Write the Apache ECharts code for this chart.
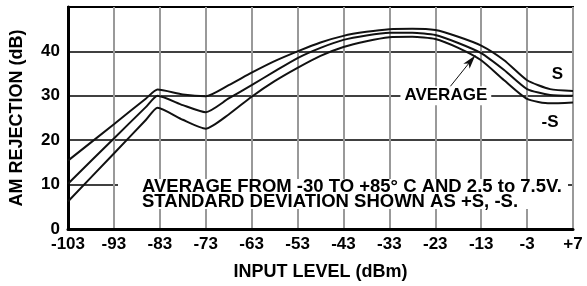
<!DOCTYPE html>
<html>
<head>
<meta charset="utf-8">
<script src="https://cdn.jsdelivr.net/npm/echarts@6/dist/echarts.min.js"></script>
<style>
  html, body { margin: 0; padding: 0; background: #fff; }
  #chart { width: 587px; height: 286px; }
</style>
</head>
<body>
<div id="chart"></div>
<script>
// axis starts at -103 dBm, so x values are shifted by X0 for the value axis
var X0 = -103;
var xTickLabels = ["-103", "-93", "-83", "-73", "-63", "-53", "-43", "-33", "-23", "-13", "-3", "+7"];
var yTickLabels = ["0", "10", "20", "30", "40", ""];

var inputLevel = [-103, -93, -86, -83.5, -78, -73, -68, -63, -58, -53, -48, -43, -38, -33, -28, -23, -18, -13, -8, -3, 2, 7];
var plusS   = [15.4, 23.6, 29.4, 31.4, 30.3, 29.9, 32.4, 35.2, 37.8, 40.0, 42.0, 43.5, 44.4, 45.0, 45.1, 44.8, 43.3, 41.3, 38.0, 33.5, 31.5, 31.1];
var average = [10.2, 20.4, 27.5, 30.0, 27.9, 26.3, 29.4, 32.4, 35.5, 38.5, 40.8, 42.6, 43.6, 44.2, 44.2, 43.7, 41.9, 39.6, 35.8, 31.5, 30.2, 30.0];
var minusS  = [6.2, 17.0, 24.6, 27.3, 24.6, 22.6, 25.8, 29.8, 33.3, 36.3, 39.0, 41.0, 42.3, 43.2, 43.3, 42.8, 40.8, 38.0, 33.5, 29.3, 28.3, 28.5];

// annotation anchors, in dBm / dB
var arrowFrom = [-20.2, 31.5];
var arrowTo = [-14.3, 39.1];
var averageLabelAt = [-20.7, 30];
var sLabelAt = [3.6, 34.8];
var minusSLabelAt = [2.0, 24.1];

var FONT = "Liberation Sans, Arial, sans-serif";

function pts(ys) {
  return inputLevel.map(function (x, i) { return [x - X0, ys[i]]; });
}

function curve(name, ys) {
  return {
    name: name,
    type: "line",
    data: pts(ys),
    smooth: 0.2,
    symbol: "none",
    lineStyle: { color: "#111", width: 2 },
    z: 5
  };
}

var chart = echarts.init(document.getElementById("chart"), null, { renderer: "canvas" });

var avgSeries = curve("AVERAGE", average);
avgSeries.markLine = {
  silent: true,
  animation: false,
  label: { show: false },
  lineStyle: { color: "#111", width: 1, type: "solid" },
  symbolSize: [6, 14],
  data: [[
    { coord: [arrowFrom[0] - X0, arrowFrom[1]], symbol: "none" },
    { coord: [arrowTo[0] - X0, arrowTo[1]], symbol: "arrow" }
  ]]
};

chart.setOption({
  animation: false,
  backgroundColor: "#fff",
  grid: {
    left: 63, right: 14, top: 7, bottom: 49,
    show: true, borderColor: "#000", borderWidth: 2, backgroundColor: "#fff"
  },
  xAxis: {
    type: "value",
    min: 0, max: 110, interval: 10,
    name: "INPUT LEVEL (dBm)",
    nameLocation: "middle",
    nameGap: 34,
    nameTextStyle: { color: "#000", fontSize: 18, fontWeight: "bold", fontFamily: FONT },
    axisLine: { lineStyle: { color: "#000", width: 3 } },
    axisTick: { show: false },
    axisLabel: {
      margin: 7, color: "#000", fontSize: 17, fontWeight: "bold", fontFamily: FONT,
      formatter: function (v) { return xTickLabels[Math.round(v / 10)]; }
    },
    splitLine: { lineStyle: { color: "#999", width: 2 } }
  },
  yAxis: {
    type: "value",
    min: 0, max: 50, interval: 10,
    name: "AM REJECTION (dB)",
    nameLocation: "middle",
    nameGap: 42,
    nameTextStyle: { color: "#000", fontSize: 18, fontWeight: "bold", fontFamily: FONT },
    axisLine: { show: true, lineStyle: { color: "#000", width: 3 } },
    axisTick: { show: false },
    axisLabel: {
      margin: 8, color: "#000", fontSize: 17, fontWeight: "bold", fontFamily: FONT,
      formatter: function (v) { return yTickLabels[Math.round(v / 10)]; }
    },
    splitLine: { lineStyle: { color: "#000", width: 1.5 } }
  },
  series: [curve("+S", plusS), avgSeries, curve("-S", minusS)]
});

function px(p) {
  return chart.convertToPixel({ gridIndex: 0 }, [p[0] - X0, p[1]]);
}

var avgPos = px(averageLabelAt);
var sPos = px(sLabelAt);
var msPos = px(minusSLabelAt);
var labelStyle = { fill: "#000", fontSize: 17, fontWeight: "bold", fontFamily: FONT, align: "center", verticalAlign: "middle" };
var noteStyle = { fill: "#000", fontSize: 18.5, fontWeight: "bold", fontFamily: FONT, verticalAlign: "middle" };

chart.setOption({
  graphic: [
    // white box behind the note
    { type: "rect", shape: { x: 118, y: 179, width: 450, height: 30 }, style: { fill: "#fff" }, z: 10 },
    { type: "text", x: 142, y: 187, z: 11,
      style: Object.assign({ text: "AVERAGE FROM -30 TO +85° C AND 2.5 to 7.5V." }, noteStyle) },
    { type: "text", x: 142, y: 202, z: 11,
      style: Object.assign({ text: "STANDARD DEVIATION SHOWN AS +S, -S." }, noteStyle) },
    { type: "text", x: avgPos[0], y: avgPos[1], z: 11,
      style: Object.assign({ text: "AVERAGE", backgroundColor: "#fff", padding: [1, 4] }, labelStyle) },
    { type: "text", x: sPos[0], y: sPos[1], z: 11, style: Object.assign({ text: "S" }, labelStyle) },
    { type: "text", x: msPos[0], y: msPos[1], z: 11, style: Object.assign({ text: "-S" }, labelStyle) }
  ]
});
</script>
</body>
</html>
